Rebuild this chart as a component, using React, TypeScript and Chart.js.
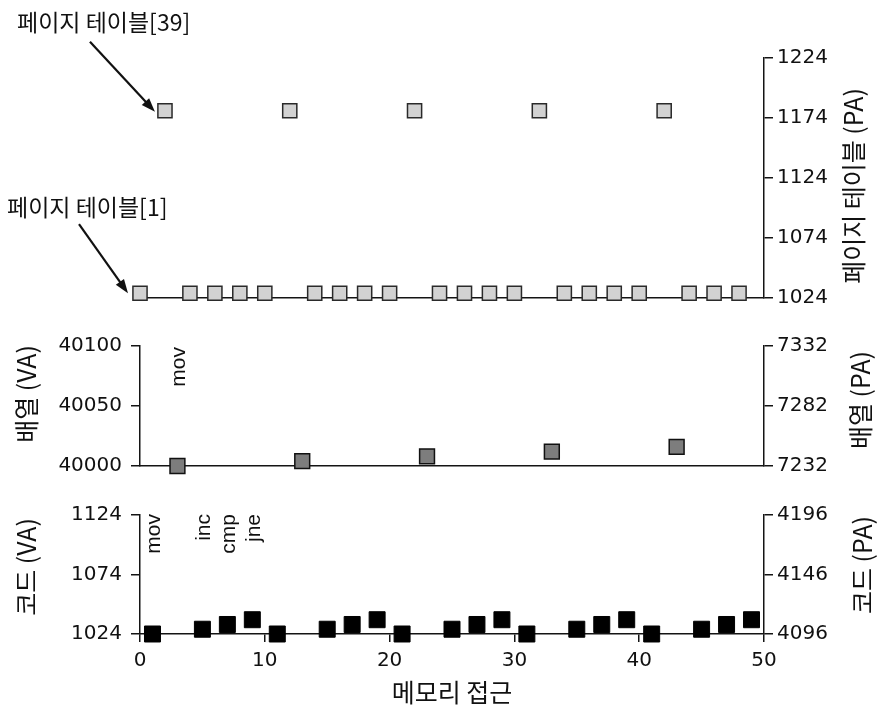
import React, { useEffect, useRef } from 'react';
import { Chart, registerables } from 'chart.js';

Chart.register(...registerables);

// ---------- data ----------
const pt1Access = [0, 4, 6, 8, 10, 14, 16, 18, 20, 24, 26, 28, 30, 34, 36, 38, 40, 44, 46, 48];
const pt1PA = [1028, 1028, 1028, 1028, 1028, 1028, 1028, 1028, 1028, 1028, 1028, 1028, 1028, 1028, 1028, 1028, 1028, 1028, 1028, 1028];
const pt39Access = [2, 12, 22, 32, 42];
const pt39PA = [1180, 1180, 1180, 1180, 1180];
const arrayAccess = [3, 13, 23, 33, 43];
const arrayVA = [40000, 40004, 40008, 40012, 40016];
const codeAccess = [1, 5, 7, 9, 11, 15, 17, 19, 21, 25, 27, 29, 31, 35, 37, 39, 41, 45, 47, 49];
const codeVA = [1024, 1028, 1032, 1036, 1024, 1028, 1032, 1036, 1024, 1028, 1032, 1036, 1024, 1028, 1032, 1036, 1024, 1028, 1032, 1036];

const xTicks = [0, 10, 20, 30, 40, 50];
const ptPATicks = [1024, 1074, 1124, 1174, 1224];
const arrayVATicks = [40000, 40050, 40100];
const arrayPATicks = [7232, 7282, 7332];
const codeVATicks = [1024, 1074, 1124];
const codePATicks = [4096, 4146, 4196];

const codeOps = ['mov', 'inc', 'cmp', 'jne'];
const arrayOps = ['mov'];
const ptLabels = ['페이지 테이블[39]', '페이지 테이블[1]'];
const xTitle = '메모리 접근';
const ptPATitle = '페이지 테이블 (PA)';
const arrayVATitle = '배열 (VA)';
const arrayPATitle = '배열 (PA)';
const codeVATitle = '코드 (VA)';
const codePATitle = '코드 (PA)';

// ---------- style ----------
const W = 878;
const AX = '#141414';
const TXT = '#111';
const tickFont = { family: "'DejaVu Sans', sans-serif", size: 20 };
const KR = "'Noto Sans CJK KR', sans-serif";
const LEFT_W = 140;
const RIGHT_W = 114;

const toPts = (xs: number[], ys: number[]) => xs.map((x, i) => ({ x, y: ys[i] }));
const plain = (v: any) => String(v);

function yScale(position: string, ticks: number[], width: number) {
  return {
    type: 'linear',
    position,
    min: ticks[0],
    max: ticks[ticks.length - 1],
    afterBuildTicks: (s: any) => {
      s.ticks = ticks.map((v) => ({ value: v }));
    },
    afterFit: (s: any) => {
      s.width = width;
    },
    grid: { display: true, drawOnChartArea: false, drawTicks: true, tickLength: 9, color: AX, lineWidth: 1.5 },
    border: { display: true, color: AX, width: 1.5 },
    ticks: { font: tickFont, color: TXT, padding: position === 'left' ? 9 : 4, callback: plain },
  };
}

function xScale(show: boolean, height: number) {
  return {
    type: 'linear',
    position: 'bottom',
    min: 0,
    max: 50,
    afterBuildTicks: (s: any) => {
      s.ticks = xTicks.map((v) => ({ value: v }));
    },
    afterFit: (s: any) => {
      s.height = height;
    },
    grid: { display: show, drawOnChartArea: false, tickLength: 8, color: AX, lineWidth: 1.5 },
    border: { display: true, color: AX, width: 1.5 },
    ticks: { display: show, font: tickFont, color: TXT, padding: 7, maxRotation: 0, autoSkip: false, callback: plain },
    title: show
      ? { display: true, text: xTitle, font: { family: KR, size: 25 }, color: TXT, padding: { top: 0, bottom: 3 } }
      : { display: false },
  };
}

function vText(ctx: CanvasRenderingContext2D, text: string, x: number, y: number, font: string, align: CanvasTextAlign) {
  ctx.save();
  ctx.translate(x, y);
  ctx.rotate(-Math.PI / 2);
  ctx.font = font;
  ctx.fillStyle = TXT;
  ctx.textAlign = align;
  ctx.textBaseline = 'middle';
  ctx.fillText(text, 0, 0);
  ctx.restore();
}

function arrow(ctx: CanvasRenderingContext2D, x1: number, y1: number, x2: number, y2: number) {
  const a = Math.atan2(y2 - y1, x2 - x1);
  const hl = 14;
  const hw = 5;
  const c = Math.cos(a);
  const s = Math.sin(a);
  ctx.save();
  ctx.strokeStyle = '#111';
  ctx.fillStyle = '#111';
  ctx.lineWidth = 2.2;
  ctx.beginPath();
  ctx.moveTo(x1, y1);
  ctx.lineTo(x2 - hl * 0.8 * c, y2 - hl * 0.8 * s);
  ctx.stroke();
  ctx.beginPath();
  ctx.moveTo(x2, y2);
  ctx.lineTo(x2 - hl * c + hw * s, y2 - hl * s - hw * c);
  ctx.lineTo(x2 - hl * c - hw * s, y2 - hl * s + hw * c);
  ctx.closePath();
  ctx.fill();
  ctx.restore();
}

const baseOpts = {
  responsive: false,
  maintainAspectRatio: false,
  animation: false,
  events: [],
  plugins: { legend: { display: false }, tooltip: { enabled: false } },
};

export default function App() {
  const topRef = useRef<HTMLCanvasElement>(null);
  const midRef = useRef<HTMLCanvasElement>(null);
  const botRef = useRef<HTMLCanvasElement>(null);

  useEffect(() => {
    const charts: Chart[] = [];

    // ---------- top: page table ----------
    charts.push(
      new Chart(topRef.current as HTMLCanvasElement, {
        type: 'scatter',
        data: {
          datasets: [
            {
              data: toPts(pt1Access, pt1PA),
              yAxisID: 'yR',
              pointStyle: 'rect',
              pointRadius: 10,
              backgroundColor: '#d2d2d2',
              borderColor: '#2a2a2a',
              borderWidth: 1.5,
              clip: false,
            },
            {
              data: toPts(pt39Access, pt39PA),
              yAxisID: 'yR',
              pointStyle: 'rect',
              pointRadius: 10,
              backgroundColor: '#d2d2d2',
              borderColor: '#2a2a2a',
              borderWidth: 1.5,
              clip: false,
            },
          ],
        },
        options: {
          ...baseOpts,
          layout: { padding: { left: LEFT_W, right: 0, top: 58, bottom: 22 } },
          scales: {
            x: xScale(false, 0),
            yR: yScale('right', ptPATicks, RIGHT_W),
          },
        } as any,
        plugins: [
          {
            id: 'topText',
            afterDraw(chart: any) {
              const ctx = chart.ctx as CanvasRenderingContext2D;
              const xs = chart.scales.x;
              const ys = chart.scales.yR;
              ctx.save();
              ctx.font = `23px ${KR}`;
              ctx.fillStyle = TXT;
              ctx.textAlign = 'left';
              ctx.textBaseline = 'middle';
              ctx.fillText(ptLabels[0], 17, 22);
              ctx.fillText(ptLabels[1], 7, 207);
              ctx.restore();
              const p39x = xs.getPixelForValue(pt39Access[0]);
              const p39y = ys.getPixelForValue(pt39PA[0]);
              arrow(ctx, p39x - 75, p39y - 69, p39x - 10, p39y + 1);
              const p1x = xs.getPixelForValue(pt1Access[0]);
              const p1y = ys.getPixelForValue(pt1PA[0]);
              arrow(ctx, p1x - 61, p1y - 69, p1x - 12, p1y);
              vText(ctx, ptPATitle, 853, 186, `25px ${KR}`, 'center');
            },
          },
        ],
      } as any)
    );

    // ---------- middle: array ----------
    charts.push(
      new Chart(midRef.current as HTMLCanvasElement, {
        type: 'scatter',
        data: {
          datasets: [
            {
              data: toPts(arrayAccess, arrayVA),
              yAxisID: 'yL',
              pointStyle: 'rect',
              pointRadius: 10.5,
              backgroundColor: '#7d7d7d',
              borderColor: '#111',
              borderWidth: 1.5,
              clip: false,
            },
          ],
        },
        options: {
          ...baseOpts,
          layout: { padding: { left: 0, right: 0, top: 26, bottom: 24 } },
          scales: {
            x: xScale(false, 0),
            yL: yScale('left', arrayVATicks, LEFT_W),
            yR: yScale('right', arrayPATicks, RIGHT_W),
          },
        } as any,
        plugins: [
          {
            id: 'midText',
            afterDraw(chart: any) {
              const ctx = chart.ctx as CanvasRenderingContext2D;
              const xs = chart.scales.x;
              const top = chart.chartArea.top;
              vText(ctx, arrayOps[0], xs.getPixelForValue(arrayAccess[0]) + 2, top + 1, `21px 'Liberation Sans', sans-serif`, 'right');
              vText(ctx, arrayVATitle, 26, 74, `25px ${KR}`, 'center');
              vText(ctx, arrayPATitle, 860, 80, `25px ${KR}`, 'center');
            },
          },
        ],
      } as any)
    );

    // ---------- bottom: code ----------
    charts.push(
      new Chart(botRef.current as HTMLCanvasElement, {
        type: 'scatter',
        data: {
          datasets: [
            {
              data: toPts(codeAccess, codeVA),
              yAxisID: 'yL',
              pointStyle: 'rect',
              pointRadius: 11.3,
              backgroundColor: '#000',
              borderColor: '#000',
              borderWidth: 1,
              clip: false,
            },
          ],
        },
        options: {
          ...baseOpts,
          layout: { padding: { left: 0, right: 0, top: 25, bottom: 0 } },
          scales: {
            x: xScale(true, 76),
            yL: yScale('left', codeVATicks, LEFT_W),
            yR: yScale('right', codePATicks, RIGHT_W),
          },
        } as any,
        plugins: [
          {
            id: 'botText',
            afterDraw(chart: any) {
              const ctx = chart.ctx as CanvasRenderingContext2D;
              const xs = chart.scales.x;
              const top = chart.chartArea.top;
              codeOps.forEach((op, i) => {
                vText(ctx, op, xs.getPixelForValue(codeAccess[i]) + 1.5, top - 1, `21px 'Liberation Sans', sans-serif`, 'right');
              });
              vText(ctx, codeVATitle, 26, 77, `25px ${KR}`, 'center');
              vText(ctx, codePATitle, 862, 75, `25px ${KR}`, 'center');
            },
          },
        ],
      } as any)
    );

    return () => {
      charts.forEach((c) => c.destroy());
    };
  }, []);

  const cv = (top: number, h: number): React.CSSProperties => ({
    position: 'absolute',
    left: 0,
    top,
    width: W,
    height: h,
    display: 'block',
  });

  return (
    <div style={{ position: 'absolute', left: 0, top: 0, width: W, height: 710, background: '#fff', overflow: 'hidden' }}>
      <canvas ref={topRef} width={W} height={320} style={cv(0, 320)} />
      <canvas ref={midRef} width={W} height={170} style={cv(320, 170)} />
      <canvas ref={botRef} width={W} height={220} style={cv(490, 220)} />
    </div>
  );
}
